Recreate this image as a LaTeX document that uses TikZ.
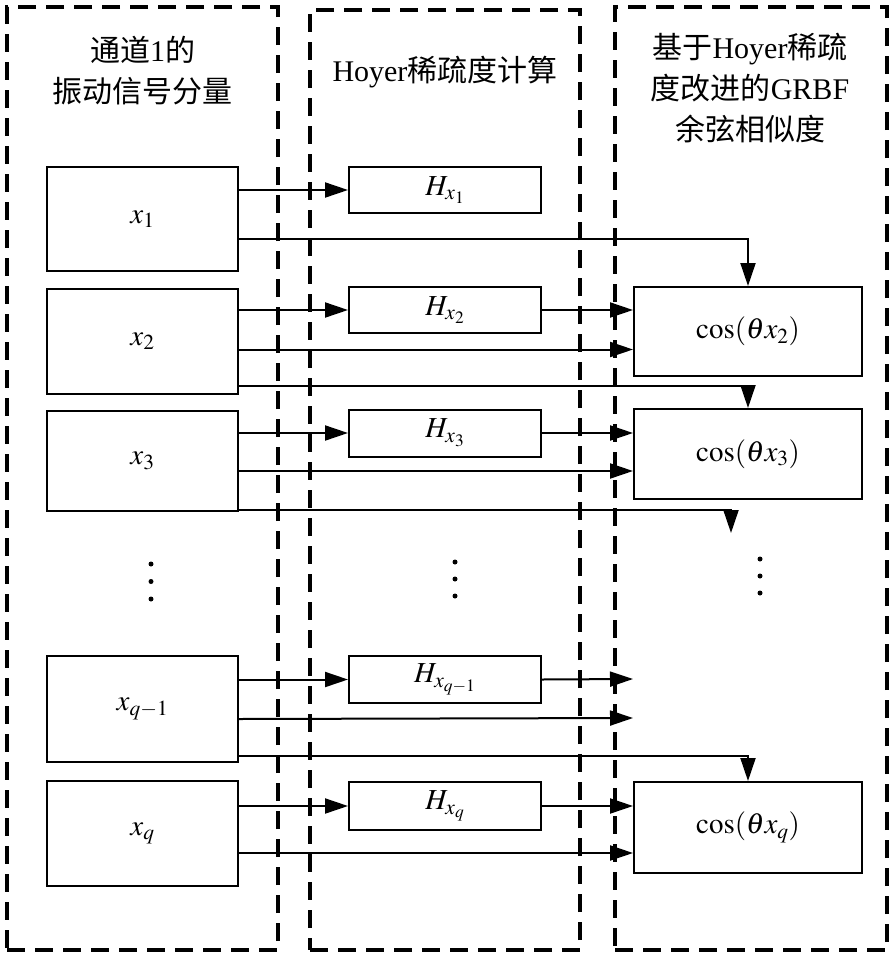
\documentclass[tikz,border=0pt]{standalone}
\usepackage{mathptmx}
\usepackage{fontspec}
\setmainfont{Liberation Serif}
\newfontfamily\cjk{Noto Sans CJK SC}
\usetikzlibrary{arrows.meta}
\begin{document}
\begin{tikzpicture}[x=1pt,y=-1pt,
  box/.style={draw, line width=2pt, inner sep=0pt, font=\fontsize{29}{34}\selectfont},
  frame/.style={draw, line width=3.5pt, dash pattern=on 18pt off 10pt, inner sep=0pt},
  arr/.style={line width=2pt, -{Triangle[length=23pt,width=15pt]}},
  head/.style={align=center, font=\fontsize{30}{41}\selectfont, inner sep=0pt},
  dotc/.style={fill, circle, minimum size=5pt, inner sep=0pt}]
\useasboundingbox (0,0) rectangle (893,956);
\fill[white] (0,0) rectangle (893,956);

% dashed frames
\node[frame, minimum width=271, minimum height=943] (F1) at (142.5,478.5) {};
\node[frame, minimum width=270, minimum height=940] (F2) at (445,480) {};
\node[frame, minimum width=272, minimum height=943] (F3) at (751,478.5) {};

% headings
\node[head] (T1) at (142.5,71) {{\cjk 通道}1{\cjk 的}\\{\cjk 振动信号分量}};
\node[head] (T2) at (445,72) {Hoyer{\cjk 稀疏度计算}};
\node[head] (T3) at (750,88) {{\cjk 基于}Hoyer{\cjk 稀疏}\\{\cjk 度改进的}GRBF\\{\cjk 余弦相似度}};

% left boxes
\node[box, minimum width=191, minimum height=104] (X1) at (142.5,219) {$x_1$};
\node[box, minimum width=191, minimum height=105] (X2) at (142.5,341.5) {$x_2$};
\node[box, minimum width=191, minimum height=100] (X3) at (142.5,461) {$x_3$};
\node[box, minimum width=191, minimum height=106] (Xq1) at (142.5,709) {$x_{q-1}$};
\node[box, minimum width=191, minimum height=105] (Xq) at (142.5,833.5) {$x_q$};

% middle boxes
\node[box, minimum width=192, minimum height=46] (H1) at (445,190) {$H_{x_1}$};
\node[box, minimum width=192, minimum height=46] (H2) at (445,310) {$H_{x_2}$};
\node[box, minimum width=192, minimum height=47] (H3) at (445,433) {$H_{x_3}$};
\node[box, minimum width=192, minimum height=47] (Hq1) at (445,679.5) {$H_{x_{q-1}}$};
\node[box, minimum width=192, minimum height=48] (Hq) at (445,806) {$H_{x_q}$};

% right boxes
\node[box, minimum width=228, minimum height=89] (C2) at (748,331.5) {$\cos(\theta x_2)$};
\node[box, minimum width=228, minimum height=90] (C3) at (748,454) {$\cos(\theta x_3)$};
\node[box, minimum width=228, minimum height=91] (Cq) at (748,827.5) {$\cos(\theta x_q)$};

% dots
\foreach \y in {564,581.5,599} \node[dotc] at (151,\y) {};
\foreach \y in {562,579,596} \node[dotc] at (455,\y) {};
\foreach \y in {559,576,593} \node[dotc] at (760,\y) {};

% row 1
\draw[arr] (H1.west -| X1.east) -- (H1.west);
\draw[arr] ([yshift=-20pt]X1.east) -| (C2.north);
% row 2
\draw[arr] (H2.west -| X2.east) -- (H2.west);
\draw[arr] (H2.east) -- (H2.east -| C2.west);
\draw[arr] ([yshift=-8pt]X2.east) -- ([yshift=-8pt]X2.east -| C2.west);
\draw[arr] ([yshift=-44.5pt]X2.east) -| (C3.north);
% row 3
\draw[arr] (H3.west -| X3.east) -- (H3.west);
\draw[arr] (H3.east) -- (H3.east -| C3.west);
\draw[arr] ([yshift=-10pt]X3.east) -- ([yshift=-10pt]X3.east -| C3.west);
\coordinate (D3) at (731,533);
\draw[arr] ([yshift=-49pt]X3.east) -| (D3);
% row q-1
\coordinate (E1) at (633,679);
\coordinate (E2) at (633,718);
\draw[arr] (Hq1.west -| Xq1.east) -- (Hq1.west);
\draw[arr] (Hq1.east) -- (E1);
\draw[arr] ([yshift=-10pt]Xq1.east) -- (E2);
\draw[arr] ([yshift=-46.5pt]Xq1.east) -| (Cq.north);
% row q
\draw[arr] (Hq.west -| Xq.east) -- (Hq.west);
\draw[arr] (Hq.east) -- (Hq.east -| Cq.west);
\draw[arr] ([yshift=-19.5pt]Xq.east) -- ([yshift=-19.5pt]Xq.east -| Cq.west);
\end{tikzpicture}
\end{document}
